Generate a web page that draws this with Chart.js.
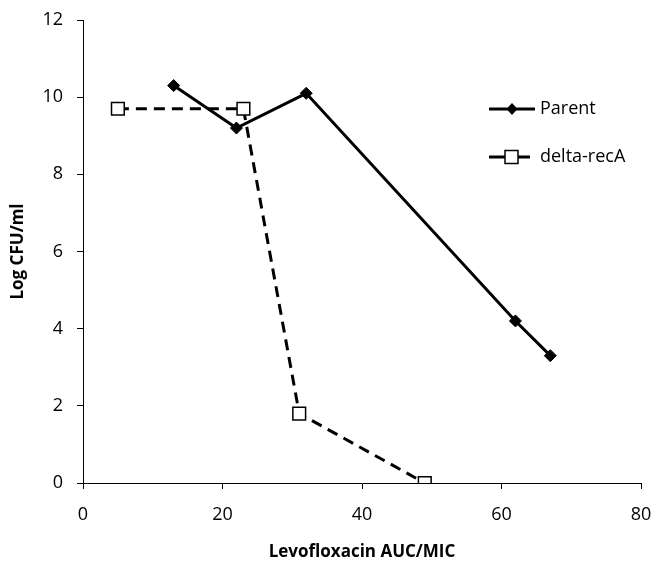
<!DOCTYPE html>
<html><head><meta charset="utf-8">
<script src="https://cdn.jsdelivr.net/npm/chart.js@4/dist/chart.umd.min.js"></script>
<style>html,body{margin:0;padding:0;background:#fff}#wrap{width:654px;height:562px}</style>
</head><body><div id="wrap"><canvas id="c" width="654" height="562"></canvas></div>
<script>
const parentX = [13, 22, 32, 62, 67];
const parentY = [10.3, 9.2, 10.1, 4.2, 3.3];
const recAX = [5, 23, 31, 49];
const recAY = [9.7, 9.7, 1.8, 0];
const seriesNames = ['Parent', 'delta-recA'];
const xTicks = [0, 20, 40, 60, 80];
const yTicks = [0, 2, 4, 6, 8, 10, 12];
const xTitle = 'Levofloxacin AUC/MIC';
const yTitle = 'Log CFU/ml';

const FONT = "'Open Sans', sans-serif";

const legendPlugin = {
  id: 'customLegend',
  afterDatasetsDraw(chart) {
    const ctx = chart.ctx;
    ctx.save();
    ctx.strokeStyle = '#000';
    ctx.lineWidth = 3;
    // Parent
    let y = 109;
    ctx.beginPath();
    ctx.moveTo(489, y); ctx.lineTo(535, y);
    ctx.stroke();
    ctx.fillStyle = '#000';
    ctx.beginPath();
    ctx.moveTo(512, y - 6); ctx.lineTo(517.5, y); ctx.lineTo(512, y + 6); ctx.lineTo(506.5, y);
    ctx.closePath(); ctx.fill();
    // delta-recA
    y = 157;
    ctx.beginPath();
    ctx.moveTo(489, y); ctx.lineTo(505, y);
    ctx.moveTo(517, y); ctx.lineTo(530, y);
    ctx.stroke();
    ctx.fillStyle = '#fff';
    ctx.lineWidth = 1.5;
    ctx.fillRect(505, y - 6.5, 13, 13);
    ctx.strokeRect(505, y - 6.5, 13, 13);
    ctx.fillStyle = '#000';
    ctx.font = "18px " + FONT;
    ctx.textAlign = 'left';
    ctx.textBaseline = 'middle';
    ctx.fillText(seriesNames[0], 540, 109);
    ctx.fillText(seriesNames[1], 540, 157);
    ctx.restore();
  }
};

new Chart(document.getElementById('c'), {
  type: 'line',
  data: {
    datasets: [
      {
        label: seriesNames[0],
        data: parentX.map((x, i) => ({x, y: parentY[i]})),
        borderColor: '#000',
        backgroundColor: '#000',
        borderWidth: 3,
        pointStyle: 'rectRot',
        pointRadius: 6,
        pointBorderWidth: 1,
        pointBackgroundColor: '#000',
        pointBorderColor: '#000',
        tension: 0
      },
      {
        label: seriesNames[1],
        data: recAX.map((x, i) => ({x, y: recAY[i]})),
        borderColor: '#000',
        backgroundColor: '#fff',
        borderWidth: 3,
        borderDash: [11, 7],
        pointStyle: 'rect',
        pointRadius: 9,
        pointBorderWidth: 1.5,
        pointBackgroundColor: '#fff',
        pointBorderColor: '#000',
        tension: 0
      }
    ]
  },
  options: {
    responsive: false,
    animation: false,
    devicePixelRatio: 1,
    layout: {padding: {top: 20, right: 13, left: 0, bottom: 0}},
    plugins: {legend: {display: false}, tooltip: {enabled: false}},
    scales: {
      x: {
        type: 'linear',
        min: 0, max: 80,
        afterBuildTicks(s) { s.ticks = xTicks.map(v => ({value: v})); },
        afterFit(s) { s.height = 79; s.paddingLeft = 0; s.paddingRight = 0; },
        grid: {drawOnChartArea: false, tickLength: 6, color: '#000', lineWidth: 1},
        border: {color: '#000', width: 1},
        ticks: {color: '#000', font: {family: FONT, size: 18}, padding: 15, maxRotation: 0},
        title: {display: true, text: xTitle, color: '#000', font: {family: FONT, size: 17, weight: 'bold'}, padding: {top: 0, bottom: 0}}
      },
      y: {
        type: 'linear',
        min: 0, max: 12,
        afterBuildTicks(s) { s.ticks = yTicks.map(v => ({value: v})); },
        afterFit(s) { s.width = 83; s.paddingTop = 0; s.paddingBottom = 0; },
        grid: {drawOnChartArea: false, tickLength: 6, color: '#000', lineWidth: 1},
        border: {color: '#000', width: 1},
        ticks: {color: '#000', font: {family: FONT, size: 18}, padding: 14},
        title: {display: true, text: yTitle, color: '#000', font: {family: FONT, size: 17, weight: 'bold'}, padding: {top: 8, bottom: 0}}
      }
    }
  },
  plugins: [legendPlugin]
});
</script>
</body></html>
